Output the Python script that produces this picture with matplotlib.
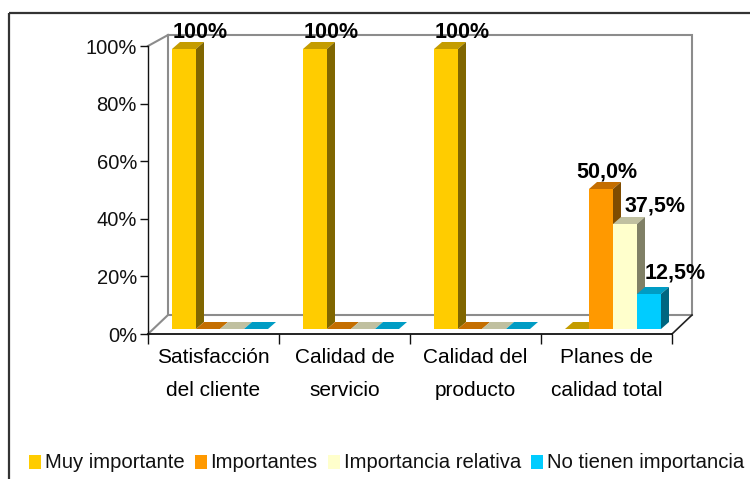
import matplotlib
matplotlib.use("Agg")
import matplotlib.pyplot as plt
from matplotlib.patches import Polygon, Rectangle
from matplotlib import font_manager as fm

# ---- data -------------------------------------------------------------
categories = ["Satisfacción\ndel cliente", "Calidad de\nservicio",
              "Calidad del\nproducto", "Planes de\ncalidad total"]
series_names = ["Muy importante", "Importantes",
                "Importancia relativa", "No tienen importancia"]
muy_importante = [100, 100, 100, 0]
importantes = [0, 0, 0, 50.0]
importancia_relativa = [0, 0, 0, 37.5]
no_tienen_importancia = [0, 0, 0, 12.5]
y_ticks = [0, 20, 40, 60, 80, 100]
y_tick_labels = ["0%", "20%", "40%", "60%", "80%", "100%"]

series = [muy_importante, importantes, importancia_relativa, no_tienen_importancia]

# ---- style ------------------------------------------------------------
face_col = ["#FFCC00", "#FF9900", "#FFFFCC", "#00CCFF"]
top_col = ["#C49C00", "#C46E00", "#C0C0A0", "#009CC4"]
side_col = ["#806600", "#7F4C00", "#808066", "#006680"]
wall_col = "#8C8C8C"


def pick_font(names):
    for n in names:
        try:
            fm.findfont(fm.FontProperties(family=n), fallback_to_default=False)
            return n
        except Exception:
            pass
    return "DejaVu Sans"


FONT = pick_font(["Liberation Sans Narrow", "Liberation Sans", "DejaVu Sans"])
plt.rcParams["font.family"] = [FONT, "DejaVu Sans"]
FS_TICK = 14.5
FS_CAT = 15
FS_LEG = 14.6
FS_VAL = 15.5

W, H = 750, 479
fig = plt.figure(figsize=(W / 100, H / 100), dpi=100)
fig.patch.set_facecolor("white")


def fx(px):
    return px / W


def fy(py):
    return 1 - py / H


# background layer in pixel units (walls, frame, legend)
bg = fig.add_axes([0, 0, 1, 1], zorder=0)
bg.set_xlim(0, W)
bg.set_ylim(H, 0)
bg.axis("off")

# outer frame of the chart area
bg.add_patch(Rectangle((9, 13), 800, 520, fill=False, ec="#333333",
                       lw=1.6, clip_on=False))

# plot geometry (pixels)
fx0, fx1, fy0, fy1 = 148, 672, 334, 46      # front plane
bx0, bx1, by0, by1 = 168, 692, 315, 35      # back wall
bar_base, bar_full = 329, 49                # bar plane: 0 % and 100 %
group_px = (fx1 - fx0) / len(categories)
depth_dx, depth_dy = 8, 7                   # bar depth in pixels

# back wall and floor edges
bg.plot([bx0, bx1, bx1, bx0, bx0], [by1, by1, by0, by0, by1],
        color=wall_col, lw=1.5, solid_joinstyle="miter")
bg.plot([fx0, bx0], [fy1, by1], color=wall_col, lw=1.5)
bg.plot([fx0, bx0], [fy0, by0], color=wall_col, lw=1.5)
bg.plot([fx1, bx1], [fy0, by0], color="#222222", lw=1.2)

# front axes: value scale and category ticks
ax = fig.add_axes([fx(fx0), fy(fy0), (fx1 - fx0) / W, (fy0 - fy1) / H], zorder=1)
ax.patch.set_alpha(0)
ax.set_xlim(0, len(categories))
ax.set_ylim(0, 100)
for s in ("top", "right"):
    ax.spines[s].set_visible(False)
ax.spines["left"].set_color("#111111")
ax.spines["bottom"].set_color("#111111")
ax.spines["left"].set_linewidth(1.0)
ax.spines["bottom"].set_linewidth(1.3)
ax.set_yticks(y_ticks)
ax.set_yticklabels(y_tick_labels, fontsize=FS_TICK)
ax.tick_params(axis="y", length=6, width=1, pad=2, colors="#111111")
ax.set_xticks(range(len(categories) + 1))
ax.set_xticklabels([])
ax.tick_params(axis="x", which="major", length=7, width=1, colors="#111111")
ax.set_xticks([i + 0.5 for i in range(len(categories))], minor=True)
ax.set_xticklabels(categories, minor=True, fontsize=FS_CAT)
ax.tick_params(axis="x", which="minor", length=0, pad=10)
for lbl in ax.get_xticklabels(minor=True):
    lbl.set_linespacing(1.95)

# bar layer
bx = fig.add_axes([fx(fx0), fy(bar_base), (fx1 - fx0) / W, (bar_base - bar_full) / H],
                  zorder=2)
bx.patch.set_alpha(0)
bx.axis("off")
bx.set_xlim(0, len(categories))
bx.set_ylim(0, 100)

ux = 1 / group_px                       # data units per pixel (x)
uy = 100 / (bar_base - bar_full)        # data units per pixel (y)
bar_w = 24 * ux
bar_off = 24 * ux
ddx, ddy = depth_dx * ux, depth_dy * uy

label_nudge = {(3, 1): (6, 17), (3, 2): (30, 18), (3, 3): (26, 21)}


def fmt(v):
    return "100%" if v == 100 else f"{v:.1f}%".replace(".", ",")


z = 3
for gi in range(len(categories)):
    for si, vals in enumerate(series):
        v = vals[gi]
        x0 = gi + bar_off + si * bar_w
        x1 = x0 + bar_w
        if v > 0:
            bx.bar(x0, v, width=bar_w, align="edge", color=face_col[si],
                   edgecolor="none", zorder=z)
        bx.add_patch(Polygon([(x0, v), (x1, v), (x1 + ddx, v + ddy), (x0 + ddx, v + ddy)],
                             closed=True, fc=top_col[si], ec="none", zorder=z + 0.1,
                             clip_on=False))
        if v > 0:
            bx.add_patch(Polygon([(x1, 0), (x1 + ddx, ddy), (x1 + ddx, v + ddy), (x1, v)],
                                 closed=True, fc=side_col[si], ec="none",
                                 zorder=z + 0.2, clip_on=False))
            dx, dy = label_nudge.get((gi, si), (16, 16))
            bx.annotate(fmt(v), xy=((x0 + x1) / 2, v), xytext=(dx, dy),
                        textcoords="offset pixels", ha="center", va="center",
                        fontsize=FS_VAL, fontweight="bold", color="#000000",
                        annotation_clip=False, zorder=20)
        z += 1

# legend along the bottom
renderer = fig.canvas.get_renderer()
lx, ly = 29, 462
for si, name in enumerate(series_names):
    bg.add_patch(Rectangle((lx, ly - 7), 12, 14, fc=face_col[si], ec="none"))
    t = bg.text(lx + 16, ly, name, fontsize=FS_LEG, ha="left", va="center",
                color="#111111")
    bb = t.get_window_extent(renderer=renderer)
    lx = lx + 16 + bb.width + 10

fig.savefig("out.png", dpi=100)
